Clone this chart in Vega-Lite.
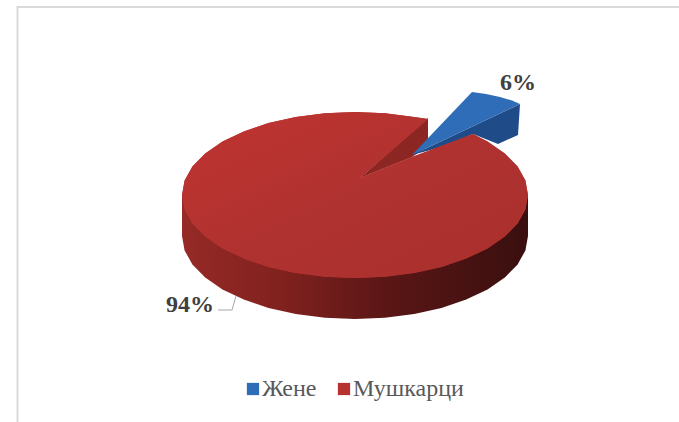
{
"$schema":"https://vega.github.io/schema/vega-lite/v6.json",
"autosize":{"type":"none"},
"width":679,"height":422,"padding":0,
"background":"white",
"config":{"view":{"stroke":null}},
"datasets":{
"outline":[
{"part":"side","i":0,"x":182,"y":195},{"part":"side","i":1,"x":182,"y":236},{"part":"side","i":2,"x":184.6,"y":250.4},{"part":"side","i":3,"x":192.4,"y":264.4},{"part":"side","i":4,"x":205.2,"y":277.5},{"part":"side","i":5,"x":222.5,"y":289.4},{"part":"side","i":6,"x":243.8,"y":299.6},{"part":"side","i":7,"x":268.5,"y":307.9},{"part":"side","i":8,"x":295.8,"y":314},{"part":"side","i":9,"x":325,"y":317.7},{"part":"side","i":10,"x":355,"y":319},{"part":"side","i":11,"x":385,"y":317.7},{"part":"side","i":12,"x":414.2,"y":314},{"part":"side","i":13,"x":441.5,"y":307.9},{"part":"side","i":14,"x":466.2,"y":299.6},{"part":"side","i":15,"x":487.5,"y":289.4},{"part":"side","i":16,"x":504.8,"y":277.5},{"part":"side","i":17,"x":517.6,"y":264.4},{"part":"side","i":18,"x":525.4,"y":250.4},{"part":"side","i":19,"x":528,"y":236},{"part":"side","i":20,"x":528,"y":195},
{"part":"wall","i":0,"x":360,"y":178},{"part":"wall","i":1,"x":428,"y":118},{"part":"wall","i":2,"x":428,"y":146},{"part":"wall","i":3,"x":412,"y":157},
{"part":"blueside","i":0,"x":412,"y":155},{"part":"blueside","i":1,"x":520,"y":104},{"part":"blueside","i":2,"x":518,"y":135},{"part":"blueside","i":3,"x":498,"y":144},{"part":"blueside","i":4,"x":473,"y":134},{"part":"blueside","i":5,"x":445,"y":146},
{"part":"bluetop","series":"Жене","i":0,"x":412,"y":155},{"part":"bluetop","series":"Жене","i":1,"x":472,"y":92},{"part":"bluetop","series":"Жене","i":2,"x":486,"y":94},{"part":"bluetop","series":"Жене","i":3,"x":500,"y":97},{"part":"bluetop","series":"Жене","i":4,"x":512,"y":100.5},{"part":"bluetop","series":"Жене","i":5,"x":520,"y":104},
{"part":"face","series":"Мушкарци","i":0,"x":360,"y":178},{"part":"face","series":"Мушкарци","i":1,"x":428,"y":119},{"part":"face","series":"Мушкарци","i":2,"x":414.2,"y":117},{"part":"face","series":"Мушкарци","i":3,"x":385,"y":113.3},{"part":"face","series":"Мушкарци","i":4,"x":355,"y":112},{"part":"face","series":"Мушкарци","i":5,"x":325,"y":113.3},{"part":"face","series":"Мушкарци","i":6,"x":295.8,"y":117},{"part":"face","series":"Мушкарци","i":7,"x":268.5,"y":123.1},{"part":"face","series":"Мушкарци","i":8,"x":243.8,"y":131.4},{"part":"face","series":"Мушкарци","i":9,"x":222.5,"y":141.6},{"part":"face","series":"Мушкарци","i":10,"x":205.2,"y":153.5},{"part":"face","series":"Мушкарци","i":11,"x":192.4,"y":166.6},{"part":"face","series":"Мушкарци","i":12,"x":184.6,"y":180.6},{"part":"face","series":"Мушкарци","i":13,"x":182,"y":195},{"part":"face","series":"Мушкарци","i":14,"x":184.6,"y":209.4},{"part":"face","series":"Мушкарци","i":15,"x":192.4,"y":223.4},{"part":"face","series":"Мушкарци","i":16,"x":205.2,"y":236.5},{"part":"face","series":"Мушкарци","i":17,"x":222.5,"y":248.4},{"part":"face","series":"Мушкарци","i":18,"x":243.8,"y":258.6},{"part":"face","series":"Мушкарци","i":19,"x":268.5,"y":266.9},{"part":"face","series":"Мушкарци","i":20,"x":295.8,"y":273},{"part":"face","series":"Мушкарци","i":21,"x":325,"y":276.7},{"part":"face","series":"Мушкарци","i":22,"x":355,"y":278},{"part":"face","series":"Мушкарци","i":23,"x":385,"y":276.7},{"part":"face","series":"Мушкарци","i":24,"x":414.2,"y":273},{"part":"face","series":"Мушкарци","i":25,"x":441.5,"y":266.9},{"part":"face","series":"Мушкарци","i":26,"x":466.2,"y":258.6},{"part":"face","series":"Мушкарци","i":27,"x":487.5,"y":248.4},{"part":"face","series":"Мушкарци","i":28,"x":504.8,"y":236.5},{"part":"face","series":"Мушкарци","i":29,"x":517.6,"y":223.4},{"part":"face","series":"Мушкарци","i":30,"x":525.4,"y":209.4},{"part":"face","series":"Мушкарци","i":31,"x":528,"y":195},{"part":"face","series":"Мушкарци","i":32,"x":525.4,"y":180.6},{"part":"face","series":"Мушкарци","i":33,"x":517.6,"y":166.6},{"part":"face","series":"Мушкарци","i":34,"x":504.8,"y":153.5},{"part":"face","series":"Мушкарци","i":35,"x":487.5,"y":141.6},{"part":"face","series":"Мушкарци","i":36,"x":473,"y":134},{"part":"face","series":"Мушкарци","i":37,"x":412,"y":157},
{"part":"leader","i":0,"x":218,"y":310},{"part":"leader","i":1,"x":232,"y":310},{"part":"leader","i":2,"x":236,"y":296},
{"part":"frame","i":0,"x":679,"y":7},{"part":"frame","i":1,"x":17.5,"y":7},{"part":"frame","i":2,"x":17.5,"y":422}
],
"labels":[{"label":"6%","share":6,"x":518,"y":83},{"label":"94%","share":94,"x":190,"y":305}]
},
"encoding":{
"x":{"field":"x","type":"quantitative","axis":null,"scale":{"domain":[0,679],"nice":false,"zero":false}},
"y":{"field":"y","type":"quantitative","axis":null,"scale":{"domain":[422,0],"nice":false,"zero":false}},
"order":{"field":"i"}
},
"layer":[
{"data":{"name":"outline"},"transform":[{"filter":"datum.part==='frame'"}],"mark":{"type":"line","stroke":"#d9d9d9","strokeWidth":2}},
{"data":{"name":"outline"},"transform":[{"filter":"datum.part==='side'"}],"mark":{"type":"line","strokeWidth":0,"fill":{"x1":0,"y1":0,"x2":1,"y2":0,"gradient":"linear","stops":[{"offset":0,"color":"#962a26"},{"offset":0.3,"color":"#7f211e"},{"offset":0.6,"color":"#591615"},{"offset":1,"color":"#3a0f0f"}]}}},
{"data":{"name":"outline"},"transform":[{"filter":"datum.part==='wall'"}],"mark":{"type":"line","strokeWidth":0,"fill":"#8c2622"}},
{"data":{"name":"outline"},"transform":[{"filter":"datum.part==='blueside'"}],"mark":{"type":"line","strokeWidth":0,"fill":"#1f4b88"}},
{"data":{"name":"outline"},"transform":[{"filter":"datum.part==='bluetop'"}],"mark":{"type":"line","strokeWidth":0},"encoding":{"fill":{"field":"series","type":"nominal","scale":{"domain":["Жене","Мушкарци"],"range":["#2f6db8","#b53230"]},"legend":{"title":null,"orient":"none","legendX":241,"legendY":377,"direction":"horizontal","columns":2,"symbolType":"square","symbolSize":150,"symbolStrokeWidth":0,"labelFont":"Liberation Serif","labelFontSize":24,"labelColor":"#595959","labelLimit":200,"columnPadding":15,"labelOffset":-3}}}},
{"data":{"name":"outline"},"transform":[{"filter":"datum.part==='face'"}],"mark":{"type":"line","strokeWidth":0},"encoding":{"fill":{"field":"series","type":"nominal"}}},
{"data":{"name":"outline"},"transform":[{"filter":"datum.part==='face'"}],"mark":{"type":"line","strokeWidth":0,"fill":{"gradient":"linear","x1":0,"y1":0,"x2":1,"y2":1,"stops":[{"offset":0,"color":"#c03430"},{"offset":0.5,"color":"#b03230"},{"offset":1,"color":"#a82f2d"}]}}},
{"data":{"name":"outline"},"transform":[{"filter":"datum.part==='leader'"}],"mark":{"type":"line","stroke":"#a6a6a6","strokeWidth":1}},
{"data":{"name":"labels"},"mark":{"type":"text","font":"Liberation Serif","fontWeight":"bold","fontSize":24,"color":"#404040","align":"center","baseline":"middle"},"encoding":{"text":{"field":"label"},"order":null}}
]
}
